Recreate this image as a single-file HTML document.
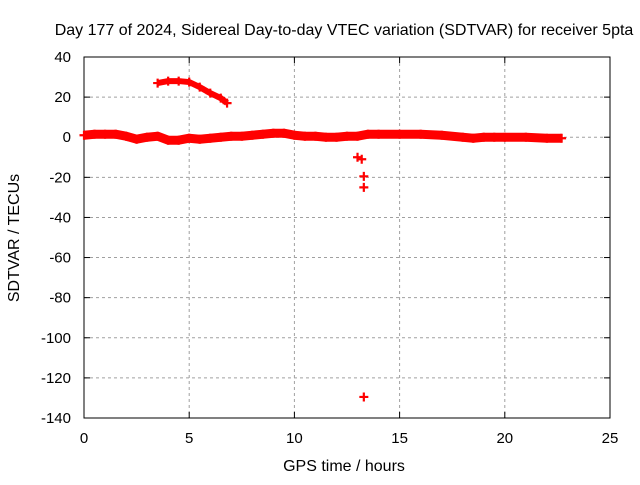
<!DOCTYPE html>
<html><head><meta charset="utf-8"><style>
body{margin:0;background:#fff}
svg text{font-family:"Liberation Sans",sans-serif;font-size:15px;fill:#000}
svg text.big{font-size:16px}
</style></head><body>
<svg id="c" width="640" height="480" xmlns="http://www.w3.org/2000/svg"></svg>
<script>
const xTicks=[0,5,10,15,20,25];
const yTicks=[40,20,0,-20,-40,-60,-80,-100,-120,-140];
const bandT=[0,0.5,1,1.5,2,2.5,3,3.5,4,4.5,5,5.5,6,6.5,7,7.5,8,8.5,9,9.5,10,10.5,11,11.5,12,12.5,13,13.5,14,15,16,17,18,18.5,19,19.5,20,21,22,22.7];
const bandV=[1,1.5,1.5,1.5,0.5,-1,0,0.5,-1.5,-1.5,-0.5,-1,-0.5,0,0.5,0.5,1,1.5,2,2,1,0.5,0.5,0,0,0.5,0.5,1.5,1.5,1.5,1.5,1,0,-0.5,0,0,0,0,-0.5,-0.5];
const arcT=[3.5,4,4.5,5,5.5,6,6.5,6.8];
const arcV=[27,28,28,27.5,25,22,19.5,17];
const outT=[13.0,13.2,13.3,13.3,13.3];
const outV=[-10,-11,-19.5,-25,-129.5];
const X0=84,X1=610,Y0=57,Y1=418;
const sx=t=>X0+(t-0)/25*(X1-X0);
const sy=v=>Y0+(40-v)/180*(Y1-Y0);
const svg=document.getElementById('c');
const NS='http://www.w3.org/2000/svg';
function mk(tag,attrs,txt){const e=document.createElementNS(NS,tag);for(const k in attrs)e.setAttribute(k,attrs[k]);if(txt!==undefined)e.textContent=txt;svg.appendChild(e);return e;}
let e;
e=mk('text',{x:344,y:35,'text-anchor':'middle',class:'big'},'Day 177 of 2024, Sidereal Day-to-day VTEC variation (SDTVAR) for receiver 5pta');


xTicks.forEach(t=>{const x=sx(t);
 if(t>0&&t<25){e=mk('line',{x1:x,y1:Y0,x2:x,y2:Y1,stroke:'#a0a0a0','stroke-dasharray':'3,3'});
 
 }
 mk('line',{x1:x,y1:Y1,x2:x,y2:Y1-6,stroke:'#000'});mk('line',{x1:x,y1:Y0,x2:x,y2:Y0+6,stroke:'#000'});
 e=mk('text',{x:x,y:443,'text-anchor':'middle'},String(t));
 
 });
yTicks.forEach(v=>{const y=sy(v);
 if(v<40&&v>-140){e=mk('line',{x1:X0,y1:y,x2:X1,y2:y,stroke:'#a0a0a0','stroke-dasharray':'3,3'});
 
 }
 mk('line',{x1:X0,y1:y,x2:X0+6,y2:y,stroke:'#000'});mk('line',{x1:X1,y1:y,x2:X1-6,y2:y,stroke:'#000'});
 e=mk('text',{x:71,y:y+5,'text-anchor':'end'},String(v));
 
 });
e=mk('rect',{x:X0,y:Y0,width:X1-X0,height:Y1-Y0,fill:'none',stroke:'#000'});


e=mk('text',{x:344,y:471,'text-anchor':'middle',class:'big'},'GPS time / hours');


e=mk('text',{x:19,y:238,'text-anchor':'middle',class:'big',transform:'rotate(-90 19 238)'},'SDTVAR / TECUs');


function series(T,V,name,w){
 e=mk('polyline',{points:T.map((t,i)=>sx(t)+','+sy(V[i])).join(' '),fill:'none',stroke:'#f00','stroke-width':w,'stroke-linejoin':'round'});
 
 
}
series(bandT,bandV,'sdtvar-main-band',9);
series(arcT,arcV,'sdtvar-arc',6);
function plus(t,v,name){const x=sx(t),y=sy(v);
 e=mk('path',{d:`M${x-4.5},${y}H${x+4.5}M${x},${y-4.5}V${y+4.5}`,stroke:'#f00','stroke-width':2.2});
 
 }
bandT.forEach((t,i)=>plus(t,bandV[i],'band-point'));
arcT.forEach((t,i)=>plus(t,arcV[i],'arc-point'));
outT.forEach((t,i)=>plus(t,outV[i],'outlier-point'));
</script>
</body></html>
